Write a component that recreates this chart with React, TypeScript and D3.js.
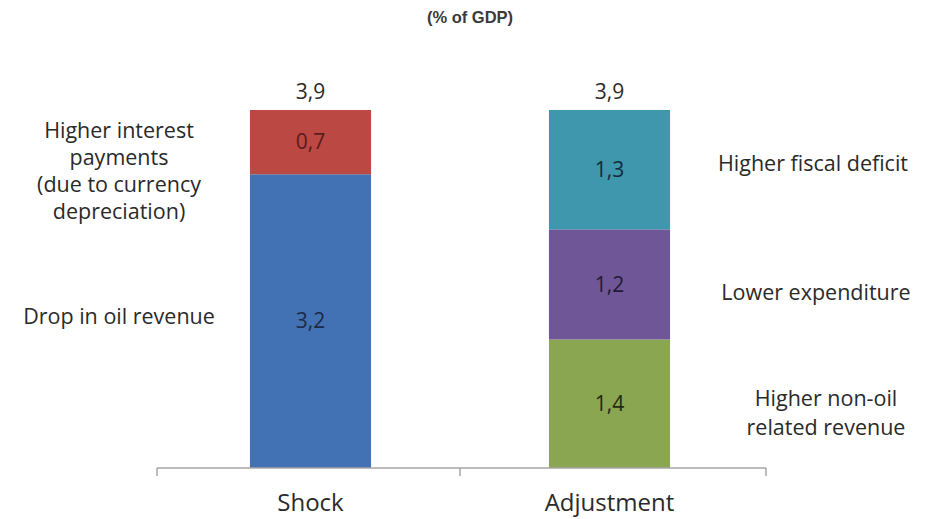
import React from "react";
import * as d3 from "d3";

// Fiscal shock vs. adjustment, % of GDP
const categories = ["Shock", "Adjustment"];
const seriesKeys = ["oil", "interest", "nonOil", "expenditure", "deficit"];
const shockValues = [3.2, 0.7, 0, 0, 0];
const adjustmentValues = [0, 0, 1.4, 1.2, 1.3];
const seriesColors = ["#4272b3", "#bb4843", "#8aa650", "#6f5696", "#3f97ae"];
const valueTextColors = ["#1c2b45", "#5a1c1c", "#1f2a18", "#231b36", "#112c3a"];
const sideLabels = [
  ["Drop in oil revenue"],
  ["Higher interest", "payments", "(due to currency", "depreciation)"],
  ["Higher non-oil", "related revenue"],
  ["Lower expenditure"],
  ["Higher fiscal deficit"],
];
const title = "(% of GDP)";

const W = 934;
const H = 519;
const FONT = "'Open Sans', Lato, sans-serif";

export default function App() {
  const rows = categories.map((c, i) => {
    const vals = i === 0 ? shockValues : adjustmentValues;
    const row: Record<string, any> = { category: c };
    seriesKeys.forEach((k, j) => (row[k] = vals[j]));
    return row;
  });
  const stacked = d3.stack<any>().keys(seriesKeys)(rows);
  const totals = rows.map((r) => d3.sum(seriesKeys, (k) => r[k]));

  const x = d3.scaleBand<string>().domain(categories).range([161, 759]).padding(0);
  const y = d3.scaleLinear().domain([0, d3.max(totals) as number]).range([468, 110]);
  const barW = x.bandwidth() * 0.405;
  const fmt = (v: number) => v.toFixed(1).replace(".", ",");

  // Side annotation placement: left of Shock bar / right of Adjustment bar
  const labelPos: { x: number; dy: number; lh: number }[] = [
    { x: 119, dy: -5, lh: 27 },
    { x: 119, dy: 29, lh: 27 },
    { x: 826, dy: 9, lh: 29 },
    { x: 816, dy: 8, lh: 28 },
    { x: 813, dy: -6, lh: 28 },
  ];

  return (
    <svg
      width={W}
      height={H}
      style={{ position: "fixed", left: 0, top: 0, background: "#fff" }}
    >
      <text
        x={470}
        y={23}
        textAnchor="middle"
        fontFamily="'Liberation Sans', Arial, sans-serif"
        fontWeight="bold"
        fontSize={16.5}
        fill="#3a3a3a"
      >
        {title}
      </text>

      {stacked.map((s, si) =>
        s.map((d, ci) => {
          const v = d[1] - d[0];
          if (v <= 0) return null;
          const cx = (x(categories[ci]) as number) + x.bandwidth() / 2;
          return (
            <g key={`${si}-${ci}`}>
              <rect
                x={cx - barW / 2}
                y={y(d[1])}
                width={barW}
                height={y(d[0]) - y(d[1])}
                fill={seriesColors[si]}
              />
              <text
                x={cx}
                y={(y(d[0]) + y(d[1])) / 2}
                dy="0.35em"
                textAnchor="middle"
                fontFamily={FONT}
                fontSize={21}
                fill={valueTextColors[si]}
              >
                {fmt(v)}
              </text>
            </g>
          );
        })
      )}

      {stacked.map((s, si) => {
        const ci = s.findIndex((d) => d[1] - d[0] > 0);
        const d = s[ci];
        const p = labelPos[si];
        const mid = (y(d[0]) + y(d[1])) / 2 + p.dy;
        const lines = sideLabels[si];
        const start = mid - ((lines.length - 1) * p.lh) / 2;
        return (
          <text
            key={`lab-${si}`}
            textAnchor="middle"
            fontFamily={FONT}
            fontSize={21.5}
            fill="#2a2a2a"
          >
            {lines.map((l, li) => (
              <tspan key={li} x={p.x} y={start + li * p.lh} dy="0.35em">
                {l}
              </tspan>
            ))}
          </text>
        );
      })}

      {categories.map((c, i) => (
        <text
          key={`tot-${c}`}
          x={(x(c) as number) + x.bandwidth() / 2}
          y={y(totals[i]) - 18}
          dy="0.35em"
          textAnchor="middle"
          fontFamily={FONT}
          fontSize={21}
          fill="#2a2a2a"
        >
          {fmt(totals[i])}
        </text>
      ))}

      {/* category axis */}
      <g stroke="#a6a6a6" strokeWidth={1.5}>
        <line x1={x.range()[0] - 4} x2={x.range()[1] + 7} y1={y(0)} y2={y(0)} />
        {[x.range()[0] - 4, x(categories[1]) as number, x.range()[1] + 7].map((t, i) => (
          <line key={i} x1={t} x2={t} y1={y(0)} y2={y(0) + 8} />
        ))}
      </g>
      {categories.map((c) => (
        <text
          key={`cat-${c}`}
          x={(x(c) as number) + x.bandwidth() / 2}
          y={503}
          dy="0.35em"
          textAnchor="middle"
          fontFamily={FONT}
          fontSize={24}
          fill="#2a2a2a"
        >
          {c}
        </text>
      ))}
    </svg>
  );
}
